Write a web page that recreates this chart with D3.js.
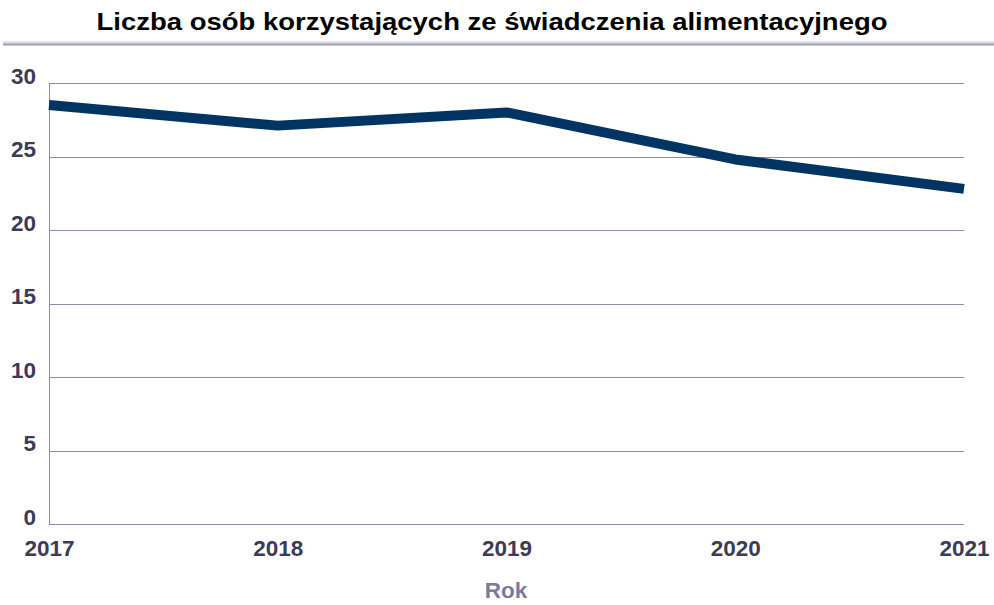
<!DOCTYPE html>
<html>
<head>
<meta charset="utf-8">
<script src="https://cdn.jsdelivr.net/npm/d3@7/dist/d3.min.js"></script>
<style>
  html, body { margin: 0; padding: 0; background: #fff; }
  svg { display: block; }
  text { font-family: "Liberation Sans", Arial, sans-serif; font-weight: bold; }
</style>
</head>
<body>
<svg id="chart" width="994" height="605"></svg>
<script>
// Number of people receiving maintenance benefit, by year
const years = ["2017", "2018", "2019", "2020", "2021"];
const values = [28.5, 27.1, 28.0, 24.8, 22.8];
const yTicks = [0, 5, 10, 15, 20, 25, 30];

const title = "Liczba osób korzystających ze świadczenia alimentacyjnego";
const xAxisTitle = "Rok";

const W = 994, H = 605;
const margin = { left: 49, right: 30, top: 83, bottom: 81 };
const labelSize = 22.5;
const svg = d3.select("#chart");

const x = d3.scalePoint().domain(years).range([margin.left, W - margin.right]);
const y = d3.scaleLinear().domain([0, 30]).range([H - margin.bottom, margin.top]);

// Title and the double rule under it
svg.append("text")
  .attr("x", 492).attr("y", 30)
  .attr("text-anchor", "middle")
  .attr("font-size", 24)
  .attr("fill", "#000")
  .attr("textLength", 791)
  .attr("lengthAdjust", "spacingAndGlyphs")
  .text(title);
svg.append("line").attr("x1", 3).attr("x2", W).attr("y1", 42.5).attr("y2", 42.5)
  .attr("stroke", "#d4d4e0").attr("stroke-width", 2);
svg.append("line").attr("x1", 3).attr("x2", W).attr("y1", 44.5).attr("y2", 44.5)
  .attr("stroke", "#9c9cb8").attr("stroke-width", 2);

const gridColor = "#8a8aaa";

// Horizontal gridlines
svg.append("g").selectAll("line").data(yTicks).join("line")
  .attr("x1", margin.left).attr("x2", W - margin.right)
  .attr("y1", d => Math.round(y(d)) + 0.5).attr("y2", d => Math.round(y(d)) + 0.5)
  .attr("stroke", gridColor).attr("stroke-width", 1);

// Left axis line
svg.append("line")
  .attr("x1", margin.left + 0.5).attr("x2", margin.left + 0.5)
  .attr("y1", y(30)).attr("y2", y(0) + 0.5)
  .attr("stroke", gridColor).attr("stroke-width", 1);

// Y axis tick labels
const yAxis = d3.axisLeft(y).tickValues(yTicks).tickSize(0).tickPadding(13);
const gy = svg.append("g").attr("transform", `translate(${margin.left},0)`).call(yAxis);
gy.select(".domain").remove();
gy.selectAll("text")
  .attr("font-size", labelSize).attr("fill", "#3b3b58")
  .attr("font-family", "Liberation Sans, Arial, sans-serif").attr("font-weight", "bold")
  .attr("dy", "0.0em");

// X axis tick labels
const xAxis = d3.axisBottom(x).tickSize(0).tickPadding(16);
const gx = svg.append("g").attr("transform", `translate(0,${y(0)})`).call(xAxis);
gx.select(".domain").remove();
gx.selectAll("text")
  .attr("font-size", labelSize).attr("fill", "#3b3b58")
  .attr("font-family", "Liberation Sans, Arial, sans-serif").attr("font-weight", "bold");

// X axis title
svg.append("text")
  .attr("x", 506).attr("y", 598)
  .attr("text-anchor", "middle")
  .attr("font-size", labelSize)
  .attr("fill", "#7a7aa0")
  .text(xAxisTitle);

// Data line
const line = d3.line().x((d, i) => x(years[i])).y(d => y(d));
svg.append("path")
  .datum(values)
  .attr("d", line)
  .attr("fill", "none")
  .attr("stroke", "#003463")
  .attr("stroke-width", 10)
  .attr("stroke-linejoin", "round")
  .attr("stroke-linecap", "butt");
</script>
</body>
</html>
